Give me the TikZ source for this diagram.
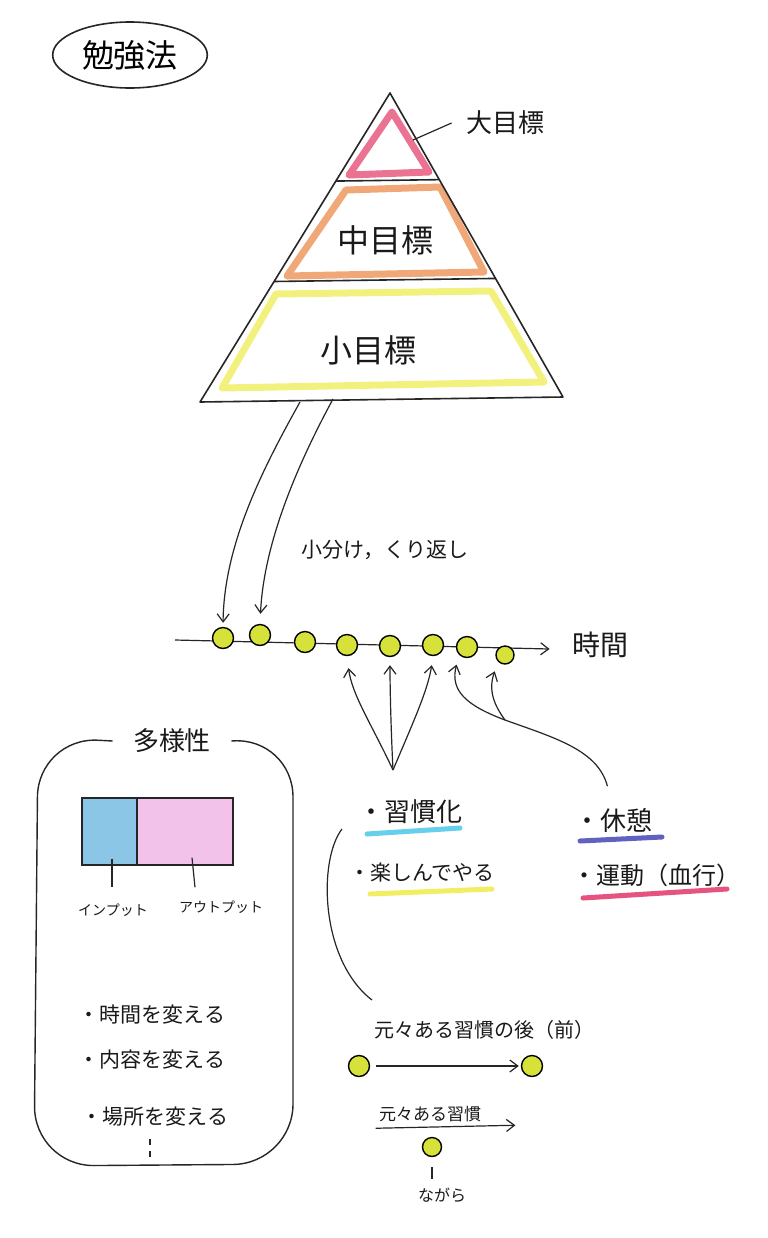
\documentclass[tikz,border=0pt]{standalone}
\usepackage{fontspec}
\newfontfamily\jp{Noto Sans CJK JP}
\usetikzlibrary{arrows.meta,calc,shapes.geometric}
\definecolor{dotc}{HTML}{D6E23A}
\definecolor{crred}{HTML}{E0285A}
\definecolor{crorange}{HTML}{E87A30}
\definecolor{cryellow}{HTML}{EEEA3A}
\definecolor{crcyan}{HTML}{40C4E8}
\definecolor{crblue}{HTML}{3A3AB0}
\definecolor{crmag}{HTML}{E02860}
\definecolor{inblue}{HTML}{8CC6E6}
\definecolor{outpink}{HTML}{F2C2EA}
\newcommand\jfs[1]{\jp\fontsize{#1}{#1}\selectfont}
\begin{document}
\begin{tikzpicture}[x=0.5pt,y=-0.5pt,
  pencil/.style={line width=0.6pt,draw=black!85},
  arr/.style={pencil,-{Straight Barb[length=4pt,width=6pt]}},
  dot/.style={circle,draw=black,line width=0.7pt,fill=dotc,minimum size=10.5pt,inner sep=0pt},
  crayon/.style={line width=3.5pt,opacity=0.65,line cap=round,line join=round},
  ul/.style={line width=2.5pt,opacity=0.8,line cap=round},
  txt/.style={inner sep=0pt,text=black!90}]
\fill[white] (0,0) rectangle (767,1238);
\useasboundingbox (0,0) rectangle (767,1238);

% title
\node[ellipse,draw,pencil,line width=0.8pt,minimum width=75pt,minimum height=33pt,font=\jfs{16}] (title) at (130,55) {勉強法};

% pyramid
\coordinate (A) at (390,93);
\coordinate (BL) at (200,402);
\coordinate (BR) at (563,397);
\draw[crayon,draw=crred] (392,112) -- (349,175) -- (429,172) -- cycle;
\draw[crayon,draw=crorange] (346,190) -- (440,187) -- (484,272) -- (287,276) -- cycle;
\draw[crayon,draw=cryellow] (276,294) -- (491,291) -- (544,382) -- (222,388) -- cycle;
\draw[pencil,line width=0.8pt,line join=round] (A) -- (BR) -- (BL) -- cycle;
\draw[pencil,line width=0.8pt] ($(A)!0.285!(BL)$) -- ($(A)!0.285!(BR)$);
\draw[pencil,line width=0.8pt] ($(A)!0.61!(BL)$) -- ($(A)!0.61!(BR)$);

\node[txt,font=\jfs{13}] (big) at (505,123) {大目標};
\coordinate (bigtip) at (413,140);
\draw[pencil] ([xshift=-7pt]big.west) -- (bigtip);
\node[txt,font=\jfs{16}] (mid) at (385,240) {中目標};
\node[txt,font=\jfs{16}] (small) at (368,350) {小目標};

% timeline
\node[txt,font=\jfs{14}] (time) at (600,645) {時間};
\coordinate (tl0) at (175,640);
\draw[arr] (tl0) -- ([xshift=-11pt,yshift=-2pt]time.west);
\node[txt,font=\jfs{10.5}] (split) at (385,550) {小分け，くり返し};

\node[dot] (d1) at (223,638) {};
\node[dot] (d2) at (260,635) {};
\node[dot] (d3) at (305,642) {};
\node[dot] (d4) at (347,645) {};
\node[dot] (d5) at (390,646) {};
\node[dot] (d6) at (433,645) {};
\node[dot] (d7) at (467,647) {};
\node[dot,minimum size=9pt] (d8) at (505,655) {};

\coordinate (p1) at (300,402);
\coordinate (p2) at (333,399);
\draw[arr,shorten >=2pt] (p1) .. controls (262,470) and (224,545) .. (d1.north);
\draw[arr,shorten >=5pt] (p2) .. controls (300,460) and (264,540) .. (d2.north);

% lower labels
\node[txt,font=\jfs{13}] (habit) at (410,812) {・習慣化};
\node[txt,font=\jfs{10.5}] (fun) at (422,872) {・楽しんでやる};
\node[txt,font=\jfs{13}] (rest) at (613,820) {・休憩};
\node[txt,font=\jfs{12}] (move) at (656,875) {・運動（血行）};
\draw[ul,draw=crcyan] (367,834) -- (460,828);
\draw[ul,draw=cryellow] (370,894) -- (492,889);
\draw[ul,draw=crblue] (580,841) -- (662,837);
\draw[ul,draw=crmag] (583,898) -- (727,889);

\coordinate (cv) at (393,770);
\draw[arr,shorten >=6pt] (cv) .. controls (372,725) and (352,695) .. (d4.south);
\draw[arr,shorten >=4pt] (cv) .. controls (391,730) and (390,690) .. (d5.south);
\draw[arr,shorten >=4.5pt] (cv) .. controls (412,725) and (428,690) .. (d6.south);

\coordinate (j) at (505,720);
\draw[pencil,shorten <=11pt] (rest.north) .. controls (598,750) and (555,738) .. (j);
\draw[arr,shorten >=5pt] (j) .. controls (465,705) and (450,690) .. (d7.south west);
\draw[arr,shorten >=5pt] (j) .. controls (494,705) and (488,690) .. (d8.south west);

% habit stacking
\node[txt,font=\jfs{10}] (after) at (484,1030) {元々ある習慣の後（前）};
\node[dot] (a1) at (359,1066) {};
\node[dot] (a2) at (532,1066) {};
\draw[arr,shorten <=3pt,shorten >=1pt] (a1) -- (a2);
\node[txt,font=\jfs{8.5}] (h2) at (430,1114) {元々ある習慣};
\draw[arr] ($(h2.south west)+(-3,6)$) -- ($(h2.south east)+(34,3)$);
\node[dot,minimum size=9.5pt] (a3) at (432,1147) {};
\node[txt,font=\jfs{8}] (nagara) at (442,1195) {ながら};
\draw[pencil,shorten <=5pt,shorten >=4pt] (a3) -- (a3 |- nagara.north);

\coordinate (lc1) at (342,829);
\coordinate (lc2) at (372,1000);
\draw[pencil] (lc1) .. controls (318,860) and (320,960) .. (lc2);

% diversity box
\node[txt,font=\jfs{13}] (div) at (172,741) {多様性};
\draw[pencil,line width=0.7pt,rounded corners=30pt] ([xshift=-10pt]div.west) -- (38,737) -- (34,1166) -- (293,1164) -- (293,737) -- ([xshift=10pt]div.east);

\node[draw,pencil,line width=0.7pt,fill=inblue,minimum width=27.5pt,minimum height=33.5pt,inner sep=0pt] (inb) at (109.5,831.5) {};
\node[draw,pencil,line width=0.7pt,fill=outpink,minimum width=48pt,minimum height=33.5pt,inner sep=0pt] (outb) at (185,831.5) {};
\node[txt,font=\jfs{7}] (inl) at (113,910) {インプット};
\node[txt,font=\jfs{7}] (outl) at (221,907) {アウトプット};
\draw[pencil] ($(inb.south)+(2.5,-7)$) -- ($(inl.north)+(-1,-16)$);
\draw[pencil] ($(outb.south)+(7,-8)$) -- ($(outl.north)+(-26,-13)$);

\node[txt,font=\jfs{10.5}] (l1) at (152,1015) {・時間を変える};
\node[txt,font=\jfs{10.5}] (l2) at (152,1060) {・内容を変える};
\node[txt,font=\jfs{10.5}] (l3) at (155,1117) {・場所を変える};
\draw[pencil,dash pattern=on 3pt off 3pt] ($(l3.south)+(-5,12)$) -- ++(0,20);
\end{tikzpicture}
\end{document}
